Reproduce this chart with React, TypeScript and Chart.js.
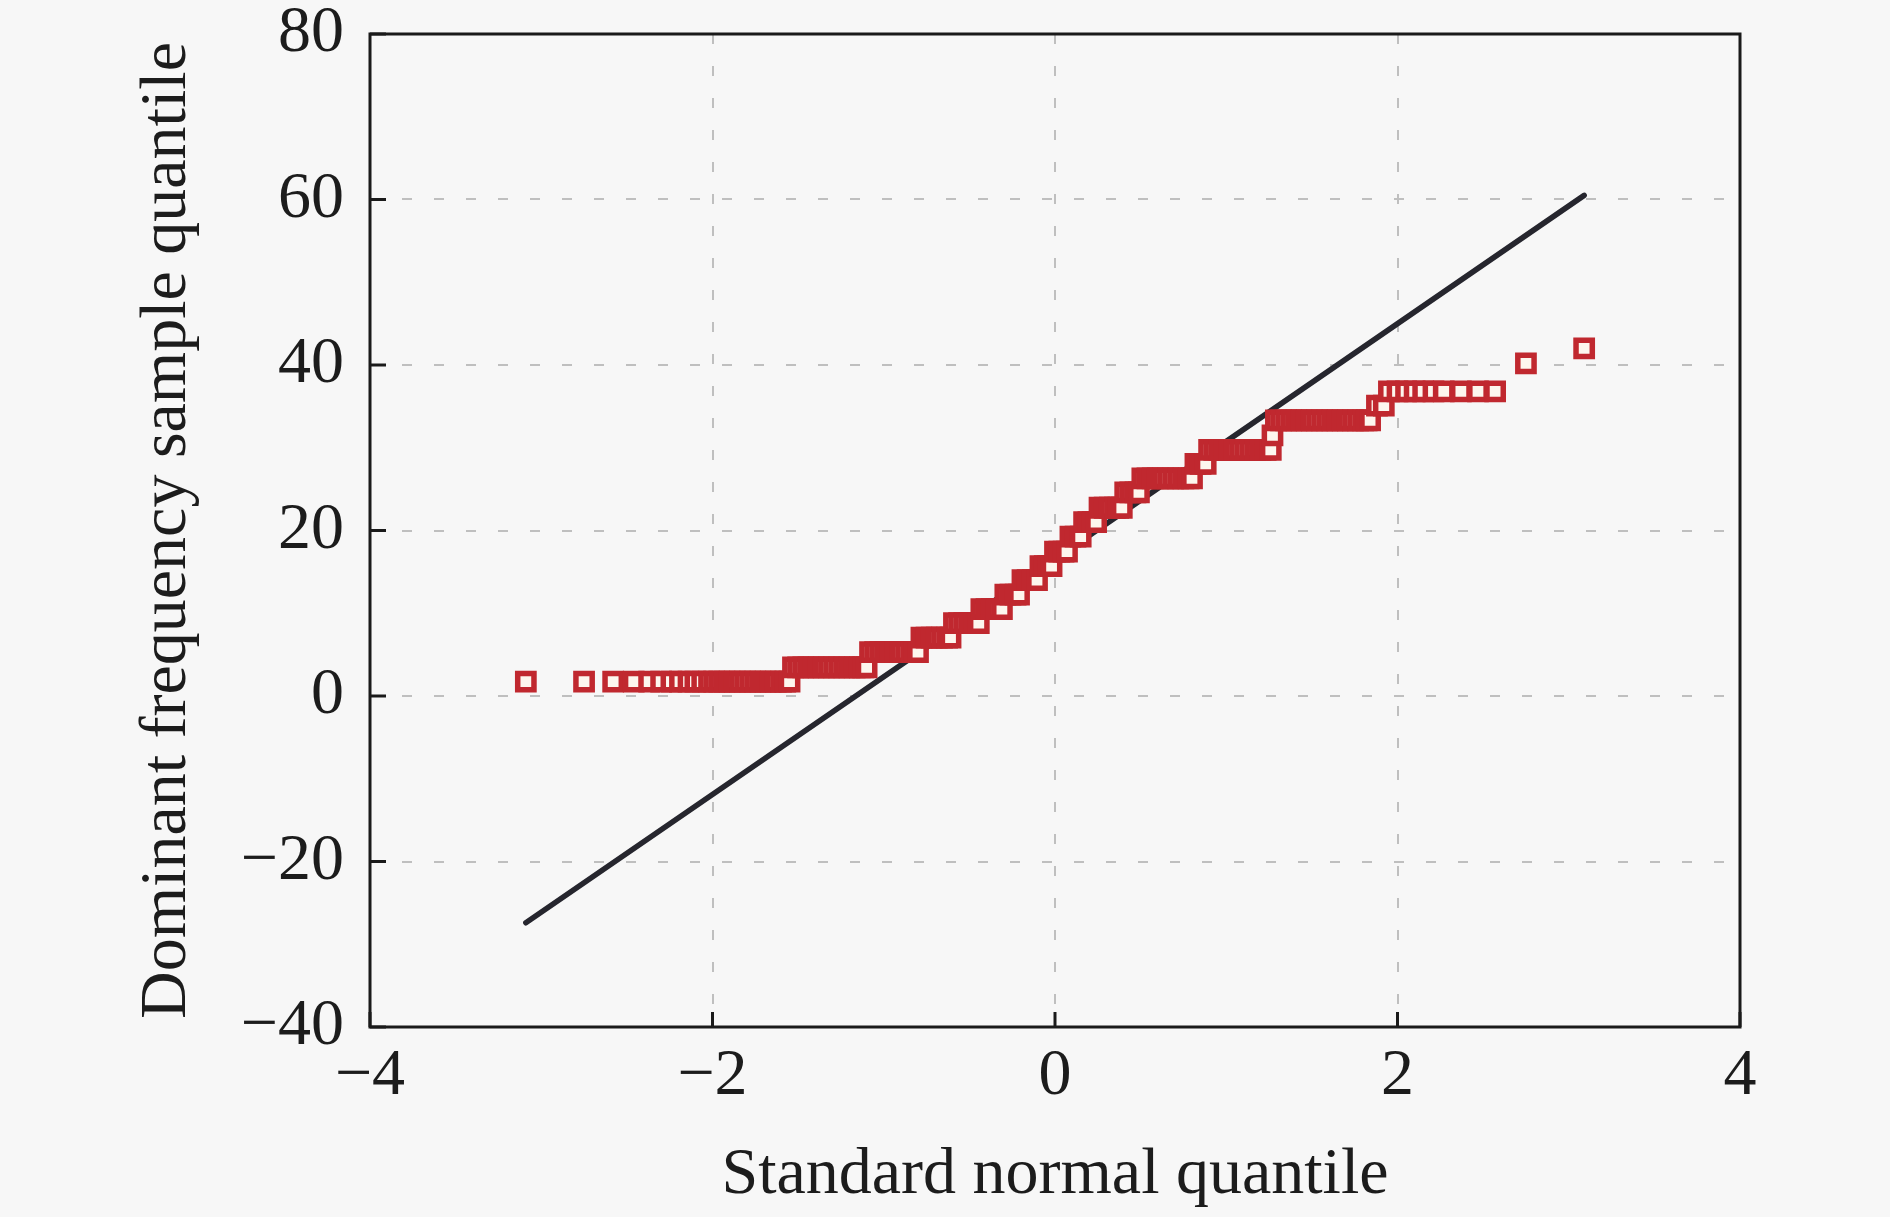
import React, { useEffect, useRef } from "react";
import { Chart, registerables } from "chart.js";

Chart.register(...registerables);

// ---- Data ----
const xTickValues = [-4, -2, 0, 2, 4];
const yTickValues = [-40, -20, 0, 20, 40, 60, 80];
const xTitle = "Standard normal quantile";
const yTitle = "Dominant frequency sample quantile";

// Distinct sample values (dominant frequency levels)
const levelValues = [
  1.73, 3.47, 5.3, 7.05, 8.8, 10.5, 12.25, 14.0, 15.7, 17.45, 19.25, 21.0,
  22.75, 24.6, 26.3, 28.05, 29.75, 31.5, 33.3, 35.1, 36.8, 40.2, 42.0,
];

// Standard normal quantiles of the points belonging to each level
const levelQuantiles: number[][] = [
  [-3.09, -2.75, -2.58, -2.46, -2.37, -2.3, -2.24, -2.19, -2.14, -2.1, -2.06, -2.02, -1.99, -1.96, -1.93, -1.9, -1.87, -1.84, -1.81, -1.78, -1.75, -1.72, -1.69, -1.66, -1.63, -1.6, -1.575, -1.55],
  [-1.53, -1.5, -1.47, -1.44, -1.41, -1.38, -1.35, -1.32, -1.29, -1.26, -1.23, -1.2, -1.17, -1.14, -1.12, -1.1],
  [-1.08, -1.05, -1.02, -0.99, -0.96, -0.93, -0.9, -0.87, -0.84, -0.82, -0.8],
  [-0.78, -0.75, -0.72, -0.69, -0.66, -0.63, -0.61],
  [-0.59, -0.56, -0.53, -0.5, -0.47, -0.445],
  [-0.43, -0.4, -0.37, -0.34, -0.31],
  [-0.29, -0.26, -0.23, -0.21],
  [-0.19, -0.16, -0.13, -0.105],
  [-0.085, -0.06, -0.04, -0.02],
  [0.0, 0.025, 0.05, 0.07],
  [0.09, 0.12, 0.15],
  [0.17, 0.195, 0.22, 0.24],
  [0.26, 0.29, 0.32, 0.35, 0.37, 0.39],
  [0.41, 0.44, 0.47, 0.49],
  [0.51, 0.54, 0.57, 0.6, 0.63, 0.66, 0.69, 0.72, 0.75, 0.78, 0.8],
  [0.82, 0.85, 0.88],
  [0.9, 0.93, 0.96, 0.99, 1.02, 1.05, 1.08, 1.11, 1.14, 1.17, 1.2, 1.23, 1.26],
  [1.27],
  [1.29, 1.32, 1.35, 1.38, 1.41, 1.44, 1.47, 1.5, 1.53, 1.56, 1.59, 1.62, 1.65, 1.68, 1.71, 1.74, 1.77, 1.8, 1.82, 1.84],
  [1.88, 1.92],
  [1.95, 2.0, 2.05, 2.1, 2.15, 2.21, 2.27, 2.37, 2.47, 2.57],
  [2.75],
  [3.09],
];

// Reference line end points
const refLineX = [-3.09, 3.09];
const refLineY = [-27.4, 60.5];

// ---- Styling ----
const FONT_FAMILY = "'Liberation Serif', 'Times New Roman', serif";
const TEXT_COLOR = "#1c1c1c";
const BG = "#f7f7f7";

const fmt = (v: number) => (v < 0 ? "\u2212" + Math.abs(v) : String(v));

const framePlugin = {
  id: "frameAndTicks",
  afterDraw(chart: any) {
    const { ctx, chartArea, scales } = chart;
    const { left, right, top, bottom } = chartArea;
    ctx.save();
    ctx.strokeStyle = "#1a1a1a";
    ctx.lineWidth = 3;
    xTickValues.forEach((v) => {
      const px = scales.x.getPixelForValue(v);
      ctx.beginPath();
      ctx.moveTo(px, bottom);
      ctx.lineTo(px, bottom - 15);
      ctx.stroke();
    });
    yTickValues.forEach((v) => {
      const py = scales.y.getPixelForValue(v);
      ctx.beginPath();
      ctx.moveTo(left, py);
      ctx.lineTo(left + 16, py);
      ctx.stroke();
    });
    ctx.strokeRect(left, top, right - left, bottom - top);
    ctx.restore();
  },
};

export default function App() {
  const canvasRef = useRef<HTMLCanvasElement | null>(null);

  useEffect(() => {
    const canvas = canvasRef.current;
    if (!canvas) return;

    const points = levelQuantiles.flatMap((xs, i) =>
      xs.map((x) => ({ x, y: levelValues[i] }))
    );
    const linePts = refLineX.map((x, i) => ({ x, y: refLineY[i] }));

    const chart = new Chart(canvas, {
      type: "scatter",
      data: {
        datasets: [
          {
            label: "samples",
            data: points,
            pointStyle: "rect",
            pointRadius: 11.5,
            pointBorderWidth: 5.5,
            borderWidth: 5.5,
            pointBorderColor: "#c0282f",
            borderColor: "#c0282f",
            pointBackgroundColor: "#fdf6ee",
            backgroundColor: "#fdf6ee",
            showLine: false,
            order: 0,
          },
          {
            label: "reference",
            data: linePts,
            showLine: true,
            borderColor: "#26262e",
            borderWidth: 5.5,
            pointRadius: 0,
            borderCapStyle: "round",
            order: 1,
          },
        ],
      },
      plugins: [framePlugin],
      options: {
        animation: false,
        responsive: false,
        devicePixelRatio: 1,
        events: [],
        layout: {
          autoPadding: false,
          padding: { left: 0, top: 34, right: 150, bottom: 0 },
        },
        plugins: {
          legend: { display: false },
          tooltip: { enabled: false },
        },
        scales: {
          x: {
            type: "linear",
            min: -4,
            max: 4,
            afterBuildTicks: (s: any) => {
              s.ticks = xTickValues.map((v) => ({ value: v }));
            },
            afterFit: (s: any) => {
              s.height = 190;
              s.paddingLeft = 0;
              s.paddingRight = 0;
              s.paddingTop = 0;
              s.paddingBottom = 0;
            },
            grid: {
              color: "#bfbfbf",
              lineWidth: 2,
              drawTicks: false,
            },
            border: { display: false, dash: [10, 22] },
            ticks: {
              padding: 10,
              color: TEXT_COLOR,
              font: { family: FONT_FAMILY, size: 66 },
              callback: (v: any) => fmt(Number(v)),
              maxRotation: 0,
            },
            title: {
              display: true,
              text: xTitle,
              color: TEXT_COLOR,
              font: { family: FONT_FAMILY, size: 66 },
              padding: { top: 0, bottom: 2 },
            },
          },
          y: {
            type: "linear",
            min: -40,
            max: 80,
            afterBuildTicks: (s: any) => {
              s.ticks = yTickValues.map((v) => ({ value: v }));
            },
            afterFit: (s: any) => {
              s.width = 370;
              s.paddingLeft = 0;
              s.paddingRight = 0;
              s.paddingTop = 0;
              s.paddingBottom = 0;
            },
            grid: {
              color: "#bfbfbf",
              lineWidth: 2,
              drawTicks: false,
            },
            border: { display: false, dash: [10, 22] },
            ticks: {
              padding: 26,
              color: TEXT_COLOR,
              font: { family: FONT_FAMILY, size: 66 },
              callback: (v: any) => fmt(Number(v)),
            },
            title: {
              display: true,
              text: yTitle,
              color: TEXT_COLOR,
              font: { family: FONT_FAMILY, size: 66 },
              padding: { top: 128, bottom: 0 },
            },
          },
        },
      } as any,
    });

    return () => chart.destroy();
  }, []);

  return (
    <div
      style={{
        position: "fixed",
        left: 0,
        top: 0,
        width: 1890,
        height: 1217,
        background: BG,
      }}
    >
      <canvas
        ref={canvasRef}
        width={1890}
        height={1217}
        style={{ display: "block", width: 1890, height: 1217 }}
      />
    </div>
  );
}
